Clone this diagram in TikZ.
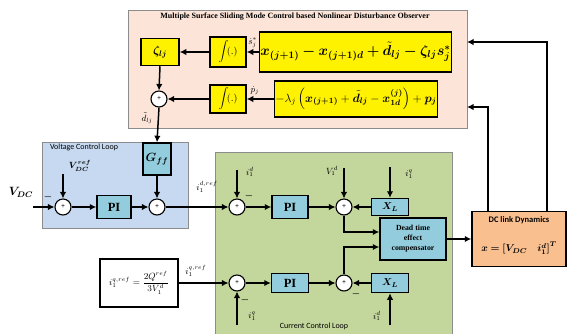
\documentclass[tikz,border=0pt]{standalone}
\usepackage{amsmath,bm}
\usepackage{fontspec}
\setmainfont{Liberation Serif}
\newfontfamily\calib{Carlito}
\usetikzlibrary{arrows.meta}

\definecolor{ndofill}{HTML}{FCE5D8}
\definecolor{vclfill}{HTML}{C6D9F0}
\definecolor{cclfill}{HTML}{C3D69B}
\definecolor{boxfill}{HTML}{93CDDD}
\definecolor{dcfill}{HTML}{F9BF8F}

\begin{document}
\begin{tikzpicture}[
	x=1pt, y=-1pt,
	reg/.style = {rectangle, draw=black!45, thin, inner sep=0},
	yb/.style = {rectangle, draw, line width=1.5pt, fill=yellow, inner sep=1pt},
	cb/.style = {rectangle, draw, line width=1.5pt, fill=boxfill, inner sep=1pt},
	sm/.style = {circle, draw, line width=1.1pt, fill=white, minimum size=16, inner sep=0, font=\scriptsize\bfseries},
	lb/.style = {inner sep=0, font=\small},
	r/.style = {-{Latex[length=6.5pt,width=6.5pt]}, line width=1.5pt}
	]
	
	\clip (0, 0) rectangle (569, 333);
	
	% ===== ===== ===== ===== =====
	
	% Regions
	\node[reg, fill=ndofill, minimum width=339, minimum height=118]	(ndo)	at	(297.5, 69)	{};
	\node[reg, fill=vclfill, minimum width=146, minimum height=86]	(vcl)	at	(115, 185)	{};
	\node[reg, fill=cclfill, minimum width=237, minimum height=190]	(ccl)	at	(333.5, 247)	{};
	
	\node[font=\fontsize{8}{9}\selectfont\bfseries]	(ndot)	at	(295, 17)	{Multiple Surface Sliding Mode Control based Nonlinear Disturbance Observer};
	\node[font=\calib\fontsize{8}{9}\selectfont]	(vclt)	at	(84, 147)	{Voltage Control Loop};
	\node[font=\calib\fontsize{8}{9}\selectfont]	(cclt)	at	(314, 326)	{Current Control Loop};
	
	
	
	% ===== ===== ===== ===== =====
	
	% Nodes
	\node[yb, minimum width=38, minimum height=27, font=\large]	(zeta)	at	(160, 52)	{$\bm{\zeta_{lj}}$};
	\node[yb, minimum width=36, minimum height=30]	(int1)	at	(228, 52)	{$\displaystyle\int\!(.)$};
	\node[yb, minimum width=179, minimum height=40, font=\fontsize{14.5}{16}\selectfont]	(f1)	at	(355.5, 52)	{$\bm{x_{(j+1)} - x_{(j+1)d} + \tilde{d}_{lj} - \zeta_{lj} s_j^{*}}$};
	
	\node[sm]	(sum0)	at	(159, 99)	{+};
	\node[yb, minimum width=36, minimum height=28]	(int2)	at	(228, 99)	{$\displaystyle\int\!(.)$};
	\node[yb, minimum width=162, minimum height=36, font=\fontsize{11.5}{13}\selectfont]	(f2)	at	(356, 99)	{$-\lambda_j \left(\bm{x_{(j+1)}} + \bm{\tilde{d}_{lj}} - \bm{x_{1d}^{(j)}}\right) + \bm{p_j}$};
	
	% Lines
	\draw[r]	(f1.west)	--	node[lb, above=4pt]	{$\dot{s}_j^{*}$}	(int1.east);
	\draw[r]	(int1.west)	--	(zeta.east);
	\draw[r]	(zeta.south)	--	(sum0.north);
	\draw[r]	(f2.west)	--	node[lb, above=4pt, pos=0.7]	{$\dot{p}_j$}	(int2.east);
	\draw[r]	(int2.west)	--	(sum0.east);
	
	
	
	% ===== ===== ===== ===== =====
	
	% Nodes
	\node[cb, minimum width=28, minimum height=32, font=\large]	(gff)	at	(157, 159)	{$\bm{G_{ff}}$};
	\node[sm]	(s1)	at	(63, 207)	{+};
	\node[cb, minimum width=34, minimum height=23, font=\fontsize{12.5}{14}\selectfont\bfseries]	(pi1)	at	(114, 207)	{PI};
	\node[sm]	(s2)	at	(157, 207)	{+};
	
	\coordinate	(vin)	at	(33, 207);
	\coordinate	(vref)	at	(63, 174);
	\node[lb, font=\large]	(vdc)	at	(21, 192)	{$\bm{V_{DC}}$};
	\node[lb]	(vdcr)	at	(80, 166)	{$\bm{V_{DC}^{ref}}$};
	\node[lb]	(m1)	at	(48, 197)	{$\bm{-}$};
	
	% Lines
	\draw[r]	(sum0.south)	--	node[lb, left=5pt, pos=0.3]	{$\tilde{d}_{lj}$}	(gff.north);
	\draw[r]	(vin)	--	(s1.west);
	\draw[r]	(vref)	--	(s1.north);
	\draw[r]	(s1.east)	--	(pi1.west);
	\draw[r]	(pi1.east)	--	(s2.west);
	\draw[r]	(gff.south)	--	(s2.north);
	
	
	
	% ===== ===== ===== ===== =====
	
	% Nodes
	\node[sm]	(s3)	at	(237, 207)	{+};
	\node[cb, minimum width=36, minimum height=23, font=\fontsize{12.5}{14}\selectfont\bfseries]	(pi2)	at	(290, 207)	{PI};
	\node[sm]	(s4)	at	(344, 207)	{+};
	\node[cb, minimum width=37, minimum height=17]	(xl1)	at	(390, 207)	{$\bm{X_L}$};
	
	\node[cb, minimum width=66, minimum height=42, align=center, font=\fontsize{7.8}{10}\selectfont\bfseries]	(dt)	at	(413, 239)	{Dead time\\effect\\compensator};
	
	\node[sm]	(s5)	at	(237, 283)	{+};
	\node[cb, minimum width=37, minimum height=19, font=\fontsize{12.5}{14}\selectfont\bfseries]	(pi3)	at	(290, 283)	{PI};
	\node[sm]	(s6)	at	(344, 283)	{+};
	\node[cb, minimum width=37, minimum height=19]	(xl2)	at	(390, 283)	{$\bm{X_L}$};
	
	\node[rectangle, draw, line width=1.5pt, fill=white, minimum width=78, minimum height=48, font=\small]	(qref)	at	(139, 283)	{$i_1^{q,ref} = \dfrac{2Q^{ref}}{3V_1^d}$};
	
	\coordinate	(id1)	at	(237, 170);
	\coordinate	(vd1)	at	(344, 168);
	\coordinate	(iq1)	at	(390, 167);
	\coordinate	(iq2)	at	(237, 325);
	\coordinate	(id2)	at	(390, 325);
	
	\node[lb]	(didr)	at	(207, 187)	{$i_1^{d,ref}$};
	\node[lb]	(did1)	at	(250, 172)	{$i_1^{d}$};
	\node[lb]	(dvd1)	at	(332, 171)	{$V_1^{d}$};
	\node[lb]	(diq1)	at	(409, 174)	{$i_1^{q}$};
	\node[lb]	(diqr)	at	(196, 271)	{$i_1^{q,ref}$};
	\node[lb]	(diq2)	at	(252, 316)	{$i_1^{q}$};
	\node[lb]	(did2)	at	(377, 316)	{$i_1^{d}$};
	
	\node[lb]	(m3)	at	(249, 196)	{$\bm{-}$};
	\node[lb]	(m5)	at	(245, 300)	{$\bm{-}$};
	\node[lb]	(m6)	at	(356, 294)	{$\bm{-}$};
	
	% Lines
	\draw[r]	(s2.east)	--	(s3.west);
	\draw[r]	(id1)	--	(s3.north);
	\draw[r]	(s3.east)	--	(pi2.west);
	\draw[r]	(pi2.east)	--	(s4.west);
	\draw[r]	(vd1)	--	(s4.north);
	\draw[r]	(iq1)	--	(xl1.north);
	\draw[r]	(xl1.west)	--	(s4.east);
	\draw[r]	(s4.south)	|-	([yshift=7pt]dt.west);
	
	\draw[r]	(qref.east)	--	(s5.west);
	\draw[r]	(iq2)	--	(s5.south);
	\draw[r]	(s5.east)	--	(pi3.west);
	\draw[r]	(pi3.east)	--	(s6.west);
	\draw[r]	(id2)	--	(xl2.south);
	\draw[r]	(xl2.west)	--	(s6.east);
	\draw[r]	(s6.north)	|-	([yshift=-8pt]dt.west);
	
	
	
	% ===== ===== ===== ===== =====
	
	% Nodes
	\node[rectangle, draw, line width=1.5pt, fill=dcfill, minimum width=94, minimum height=55]	(dc)	at	(519, 239)	{};
	\node[font=\calib\fontsize{8.5}{9}\selectfont\bfseries]	(dct)	at	(519, 220)	{DC link Dynamics};
	\node[font=\normalsize]	(dcx)	at	(519, 248)	{$\bm{x = [V_{DC}\quad i_1^d]^T}$};
	
	\coordinate	(fb1)	at	(467, 107);
	\coordinate	(fb2)	at	(467, 42);
	
	% Lines
	\draw[r]	(dt.east)	--	(dc.west);
	\draw[r]	([xshift=-31pt]dc.north)	|-	(fb1);
	\draw[r]	([xshift=28pt]dc.north)	|-	(fb2);
	
\end{tikzpicture}
\end{document}
